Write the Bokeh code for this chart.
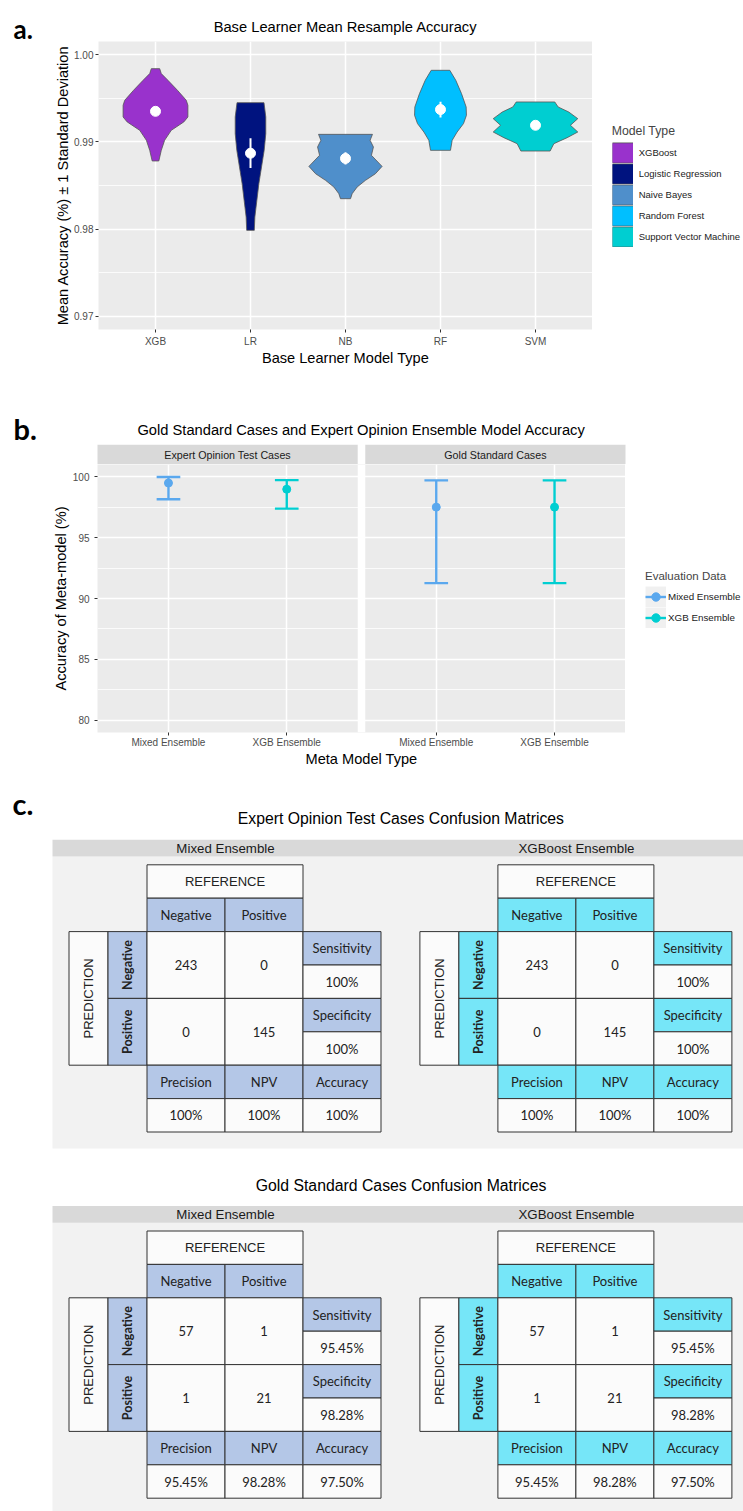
import math
from bokeh.plotting import figure
from bokeh.layouts import column, row
from bokeh.models import Range1d, FixedTicker, PrintfTickFormatter, Legend, LegendItem
from bokeh.embed import file_html
from bokeh.resources import INLINE
from bokeh.core.properties import value

# ======================= DATA =======================
# ---- panel a: base learners ----
base_models = ["XGB", "LR", "NB", "RF", "SVM"]
base_model_names = ["XGBoost", "Logistic Regression", "Naive Bayes", "Random Forest",
                    "Support Vector Machine"]
base_colors = ["#9932CC", "#00137F", "#4F8FCB", "#00BFFF", "#00CED1"]
base_mean = [0.9935, 0.9887, 0.9881, 0.9937, 0.9919]
base_sd = [0.0003, 0.0017, 0.0007, 0.0009, 0.0003]

# violin outlines: accuracy level / density half-width (category widths)
xgb_level = [0.99839, 0.99782, 0.99705, 0.99591, 0.99476, 0.99419, 0.99285, 0.99228,
             0.99132, 0.99018, 0.98903, 0.98781]
xgb_halfw = [0.044, 0.061, 0.131, 0.231, 0.324, 0.341, 0.341, 0.298, 0.166, 0.096, 0.061, 0.035]
lr_level = [0.99449, 0.99285, 0.99094, 0.98903, 0.98712, 0.98521, 0.98330, 0.98139, 0.97986]
lr_halfw = [0.142, 0.161, 0.161, 0.144, 0.116, 0.088, 0.067, 0.046, 0.040]
nb_level = [0.99086, 0.99018, 0.98941, 0.98846, 0.98719, 0.98635, 0.98559, 0.98483,
            0.98406, 0.98349]
nb_halfw = [0.284, 0.259, 0.294, 0.273, 0.385, 0.315, 0.210, 0.123, 0.070, 0.053]
rf_level = [0.99820, 0.99705, 0.99553, 0.99400, 0.99304, 0.99209, 0.99113, 0.99018, 0.98903]
rf_halfw = [0.098, 0.161, 0.221, 0.270, 0.273, 0.242, 0.175, 0.123, 0.105]
svm_level = [0.99457, 0.99400, 0.99342, 0.99266, 0.99190, 0.99113, 0.99048, 0.98979, 0.98895]
svm_halfw = [0.203, 0.238, 0.350, 0.445, 0.368, 0.445, 0.333, 0.193, 0.154]

acc_ticks_a = [0.97, 0.98, 0.99, 1.00]
acc_minor_a = [0.975, 0.985, 0.995]

# ---- panel b: meta models ----
meta_facets = ["Expert Opinion Test Cases", "Gold Standard Cases"]
meta_models = ["Mixed Ensemble", "XGB Ensemble"]
meta_colors = ["#5AA8EE", "#00CED1"]
mixed_acc = [99.48, 97.50]
mixed_lo = [98.15, 91.26]
mixed_hi = [99.97, 99.70]
xgbens_acc = [98.97, 97.50]
xgbens_lo = [97.38, 91.26]
xgbens_hi = [99.72, 99.70]
acc_ticks_b = [80, 85, 90, 95, 100]
acc_minor_b = [82.5, 87.5, 92.5, 97.5]

# ---- panel c: confusion matrices ----
section_titles = ["Expert Opinion Test Cases Confusion Matrices",
                  "Gold Standard Cases Confusion Matrices"]
ensembles_c = ["Mixed Ensemble", "XGBoost Ensemble"]
ensemble_fill = ["#B4C7E7", "#76E6F8"]
classes = ["Negative", "Positive"]
metric_names = ["Sensitivity", "Specificity", "Precision", "NPV", "Accuracy"]
# counts: [pred Neg/ref Neg, pred Neg/ref Pos, pred Pos/ref Neg, pred Pos/ref Pos]
expert_counts = [243, 0, 0, 145]
expert_metrics = ["100%", "100%", "100%", "100%", "100%"]
gold_counts = [57, 1, 1, 21]
gold_metrics = ["95.45%", "98.28%", "95.45%", "98.28%", "97.50%"]

# ======================= STYLE / LAYOUT =======================
FONT = "Liberation Sans"
CFONT = "Lato"
W = 743

A_LEFT, A_BOTTOM, A_LEG_W = 98, 39, 151
B_LEFT, B_BOTTOM, B_LEG_W = 97, 48, 118
HDR_A_H, PA_H, HDR_B_H, PB_H, PC_H = 41, 327, 96, 316, 731


def common(**kw):
    return dict(output_backend="svg", toolbar_location=None, frame_align=False,
                border_fill_color="white", outline_line_color=None, **kw)


def band(width, height):
    """A figure whose frame is its whole canvas (pixel layout units, y pointing down)."""
    return figure(width=width, height=height, x_range=Range1d(0, width),
                  y_range=Range1d(height, 0), title=None, min_border=0,
                  x_axis_type=None, y_axis_type=None, background_fill_color="white",
                  **common())


def style_axes(p, xlab_off, ylab_off, xtitle_off, ytitle_off):
    for ax in (p.xaxis[0], p.yaxis[0]):
        ax.axis_line_color = None
        ax.major_tick_line_color = "#333333"
        ax.major_tick_out = 3
        ax.major_tick_in = 0
        ax.minor_tick_out = 0
        ax.minor_tick_in = 0
        ax.major_label_text_font = FONT
        ax.major_label_text_font_size = "10px"
        ax.major_label_text_color = "#4D4D4D"
        ax.axis_label_text_font = FONT
        ax.axis_label_text_font_size = "14.6px"
        ax.axis_label_text_font_style = "normal"
        ax.axis_label_text_color = "black"
    p.xaxis.major_label_standoff = xlab_off
    p.yaxis.major_label_standoff = ylab_off
    p.xaxis.axis_label_standoff = xtitle_off
    p.yaxis.axis_label_standoff = ytitle_off
    p.grid.grid_line_color = "white"
    p.grid.grid_line_width = 1.5


def panel_letter(f, x, y, letter, size="29px"):
    f.text(x=[x], y=[y], text=[letter], text_font=value(CFONT), text_font_style="bold",
           text_font_size=size, text_baseline="alphabetic", text_align="left",
           text_color="black")


def legend_style(**kw):
    return dict(padding=0, margin=0, spacing=0, title_standoff=4,
                label_text_font=FONT, label_text_color="#222222",
                title_text_font=FONT, title_text_font_style="normal",
                background_fill_alpha=0, border_line_color=None, **kw)


# legend-key glyph data sits outside the visible band
OFF = [-50.0]
OFF2 = [-50.0, -40.0]

# ======================= PANEL A =======================
xpos_a = [1, 2, 3, 4, 5]
PA_W = W - A_LEG_W
hdr_a = band(W, HDR_A_H)
panel_letter(hdr_a, 13, 28, "a.", size="26px")
hdr_a.text(x=[A_LEFT + (PA_W - A_LEFT) / 2], y=[26.7],
           text=["Base Learner Mean Resample Accuracy"], text_font=value(FONT),
           text_font_size="14.7px", text_align="center", text_baseline="middle",
           text_color="black")

pa = figure(width=PA_W, height=PA_H, x_range=Range1d(0.4, 5.6), y_range=Range1d(0.9685, 1.0015),
            title=None, min_border_left=A_LEFT, min_border_right=0, min_border_top=0,
            min_border_bottom=A_BOTTOM, background_fill_color="#EBEBEB", **common())
style_axes(pa, 3, 2, 0, 0)
pa.xaxis.ticker = FixedTicker(ticks=xpos_a)
pa.xgrid.ticker = FixedTicker(ticks=xpos_a)
pa.xaxis.major_label_overrides = {k: m for k, m in zip(xpos_a, base_models)}
pa.yaxis.ticker = FixedTicker(ticks=acc_ticks_a, minor_ticks=acc_minor_a)
pa.ygrid.ticker = FixedTicker(ticks=acc_ticks_a, minor_ticks=acc_minor_a)
pa.yaxis.formatter = PrintfTickFormatter(format="%.2f")
pa.ygrid.minor_grid_line_color = "white"
pa.ygrid.minor_grid_line_width = 0.8
pa.xaxis.axis_label = "Base Learner Model Type"
pa.yaxis.axis_label = "Mean Accuracy (%) \u00b1 1 Standard Deviation"

levels = [xgb_level, lr_level, nb_level, rf_level, svm_level]
halfws = [xgb_halfw, lr_halfw, nb_halfw, rf_halfw, svm_halfw]
vx, vy = [], []
for pos, lv, hw in zip(xpos_a, levels, halfws):
    vx.append([pos + w for w in hw] + [pos - w for w in reversed(hw)])
    vy.append(list(lv) + list(reversed(lv)))
pa.patches(xs=vx, ys=vy, fill_color=base_colors, line_color="#555555", line_width=0.8)
pa.segment(x0=xpos_a, x1=xpos_a, y0=[m - s for m, s in zip(base_mean, base_sd)],
           y1=[m + s for m, s in zip(base_mean, base_sd)], line_color="white", line_width=2)
pa.scatter(xpos_a, base_mean, size=10, fill_color="white", line_color="white")

# legend of panel a: full-size colour keys with a grey edge, like the violins
lega = band(A_LEG_W, PA_H)
items_a = []
for n, c in zip(base_model_names, base_colors):
    edge = lega.line(OFF2, OFF2, line_color="#555555", line_width=21)
    fill = lega.line(OFF2, OFF2, line_color=c, line_width=19.4)
    items_a.append(LegendItem(label=n, renderers=[edge, fill]))
lega.add_layout(Legend(items=items_a, location=(19.7, 121.3), title="Model Type",
                       glyph_width=21, glyph_height=21, label_standoff=6,
                       label_text_font_size="9.5px", title_text_font_size="12.3px",
                       **legend_style()))

# ======================= PANEL B =======================
FACET_GAP = 0.064
facet_off = 2.2 + FACET_GAP
X_END_B = 0.4 + 2 * 2.2 + FACET_GAP
PB_W = W - B_LEG_W
B_FRAME_W = PB_W - B_LEFT
px_per_unit_b = B_FRAME_W / (X_END_B - 0.4)

xticks_b, xlabels_b = [], []
for k in range(len(meta_facets)):
    for j, m in enumerate(meta_models):
        xticks_b.append(round(j + 1 + k * facet_off, 4))
        xlabels_b.append(m)

hdr_b = band(W, HDR_B_H)
panel_letter(hdr_b, 13, 60.3, "b.")
hdr_b.text(x=[B_LEFT + B_FRAME_W / 2], y=[61.3],
           text=["Gold Standard Cases and Expert Opinion Ensemble Model Accuracy"],
           text_font=value(FONT), text_font_size="14.7px", text_align="center",
           text_baseline="middle", text_color="black")
STRIP_Y0 = 76.3
strip_left = [B_LEFT + k * facet_off * px_per_unit_b for k in range(2)]
strip_right = [l + 2.2 * px_per_unit_b for l in strip_left]
hdr_b.quad(left=strip_left, right=strip_right, top=[STRIP_Y0] * 2, bottom=[HDR_B_H] * 2,
           fill_color="#D9D9D9", line_color=None)
hdr_b.text(x=[(l + r) / 2 for l, r in zip(strip_left, strip_right)],
           y=[(STRIP_Y0 + HDR_B_H) / 2] * 2, text=meta_facets, text_font=value(FONT),
           text_font_size="10.7px", text_color="#1A1A1A", text_align="center",
           text_baseline="middle")

pb = figure(width=PB_W, height=PB_H, x_range=Range1d(0.4, X_END_B), y_range=Range1d(79.0, 101.0),
            title=None, min_border_left=B_LEFT, min_border_right=0, min_border_top=0,
            min_border_bottom=B_BOTTOM, background_fill_color="#EBEBEB", **common())
style_axes(pb, 1, 5, 0, 1)
pb.xaxis.ticker = FixedTicker(ticks=xticks_b)
pb.xgrid.ticker = FixedTicker(ticks=xticks_b)
pb.xaxis.major_label_overrides = {t: l for t, l in zip(xticks_b, xlabels_b)}
pb.yaxis.ticker = FixedTicker(ticks=acc_ticks_b, minor_ticks=acc_minor_b)
pb.ygrid.ticker = FixedTicker(ticks=acc_ticks_b, minor_ticks=acc_minor_b)
pb.ygrid.minor_grid_line_color = "white"
pb.ygrid.minor_grid_line_width = 0.8
pb.xaxis.axis_label = "Meta Model Type"
pb.yaxis.axis_label = "Accuracy of Meta-model (%)"

# white gap between the two facets
pb.quad(left=[2.6], right=[2.6 + FACET_GAP], bottom=[79.0], top=[101.0],
        fill_color="white", line_color=None)

for j, (col, acc, lo, hi) in enumerate(zip(meta_colors, [mixed_acc, xgbens_acc],
                                          [mixed_lo, xgbens_lo], [mixed_hi, xgbens_hi])):
    xs = [j + 1 + k * facet_off for k in range(2)]
    x0 = xs + [x - 0.1 for x in xs] * 2
    x1 = xs + [x + 0.1 for x in xs] * 2
    y0 = lo + lo + hi
    y1 = hi + lo + hi
    pb.segment(x0=x0, x1=x1, y0=y0, y1=y1, line_color=col, line_width=2.4)
    pb.scatter(xs, acc, size=8, fill_color=col, line_color=col)

# legend of panel b: grey key background, line and point
legb = band(B_LEG_W, PB_H)
items_b = []
for m, col in zip(meta_models, meta_colors):
    kb = legb.line(OFF2, OFF2, line_color="#F0F0F0", line_width=21)
    ks = legb.segment(x0=OFF, x1=OFF, y0=OFF, y1=OFF, line_color=col, line_width=2.4)
    kp = legb.scatter(x=OFF, y=OFF, size=8, fill_color=col, line_color=col)
    items_b.append(LegendItem(label=m, renderers=[kb, ks, kp]))
legb.add_layout(Legend(items=items_b, location=(20, 152), title="Evaluation Data",
                       glyph_width=21, glyph_height=21, label_standoff=2,
                       label_text_font_size="9.8px", title_text_font_size="11.5px",
                       **legend_style()))

# ======================= PANEL C =======================
pc = band(W, PC_H)

SEC_Y = [0.0, 366.2]
PANEL_X0 = 52.0
TITLE_X, TITLE_DY = 400.5, 38.3
STRIP_DY0, STRIP_DY1 = 59.3, 76.0
BG_H = [292.0, 400.0]
STRIP_LABEL_X = [225.0, 576.0]
TABLE_X0 = [68.5, 419.4]
TABLE_DY = 84.3
CW, RH = 39.0, 33.4

pc.quad(left=[PANEL_X0] * 2, right=[W] * 2, top=[s + STRIP_DY1 for s in SEC_Y],
        bottom=[s + STRIP_DY1 + h for s, h in zip(SEC_Y, BG_H)], fill_color="#F2F2F2",
        line_color=None)
pc.quad(left=[PANEL_X0] * 2, right=[W] * 2, top=[s + STRIP_DY0 for s in SEC_Y],
        bottom=[s + STRIP_DY1 for s in SEC_Y], fill_color="#D9D9D9", line_color=None)
pc.text(x=[TITLE_X] * 2, y=[s + TITLE_DY for s in SEC_Y], text=section_titles,
        text_font=value(FONT), text_font_size="15.8px", text_color="black",
        text_align="center", text_baseline="middle")
sx, sy, st = [], [], []
for s in SEC_Y:
    for x, name in zip(STRIP_LABEL_X, ensembles_c):
        sx.append(x)
        sy.append(s + (STRIP_DY0 + STRIP_DY1) / 2)
        st.append(name)
pc.text(x=sx, y=sy, text=st, text_font=value(FONT), text_font_size="13.3px",
        text_color="#1A1A1A", text_align="center", text_baseline="middle")

cells = {"l": [], "r": [], "t": [], "b": [], "f": []}
texts = {k: {"x": [], "y": [], "t": []} for k in ("cap", "capv", "hdr", "hdrv", "val")}


def add_table(x0, y0, counts, metrics, fill):
    spec = [
        ("REFERENCE", 2, 6, 0, 1, False, "cap"),
        (classes[0], 2, 4, 1, 2, True, "hdr"),
        (classes[1], 4, 6, 1, 2, True, "hdr"),
        ("PREDICTION", 0, 1, 2, 6, False, "capv"),
        (classes[0], 1, 2, 2, 4, True, "hdrv"),
        (classes[1], 1, 2, 4, 6, True, "hdrv"),
        (str(counts[0]), 2, 4, 2, 4, False, "val"),
        (str(counts[1]), 4, 6, 2, 4, False, "val"),
        (str(counts[2]), 2, 4, 4, 6, False, "val"),
        (str(counts[3]), 4, 6, 4, 6, False, "val"),
        (metric_names[0], 6, 8, 2, 3, True, "hdr"),
        (metrics[0], 6, 8, 3, 4, False, "val"),
        (metric_names[1], 6, 8, 4, 5, True, "hdr"),
        (metrics[1], 6, 8, 5, 6, False, "val"),
        (metric_names[2], 2, 4, 6, 7, True, "hdr"),
        (metric_names[3], 4, 6, 6, 7, True, "hdr"),
        (metric_names[4], 6, 8, 6, 7, True, "hdr"),
        (metrics[2], 2, 4, 7, 8, False, "val"),
        (metrics[3], 4, 6, 7, 8, False, "val"),
        (metrics[4], 6, 8, 7, 8, False, "val"),
    ]
    for txt, c0, c1, r0, r1, filled, kind in spec:
        L, R = x0 + c0 * CW, x0 + c1 * CW
        T, B = y0 + r0 * RH, y0 + r1 * RH
        cells["l"].append(L); cells["r"].append(R)
        cells["t"].append(T); cells["b"].append(B)
        cells["f"].append(fill if filled else "#FBFBFB")
        texts[kind]["x"].append((L + R) / 2)
        texts[kind]["y"].append((T + B) / 2)
        texts[kind]["t"].append(txt)


for s, counts, metrics in zip(SEC_Y, [expert_counts, gold_counts], [expert_metrics, gold_metrics]):
    for x0, fill in zip(TABLE_X0, ensemble_fill):
        add_table(x0, s + TABLE_DY, counts, metrics, fill)

pc.quad(left=cells["l"], right=cells["r"], top=cells["t"], bottom=cells["b"],
        fill_color=cells["f"], line_color="#333333", line_width=1)

text_styles = {
    "cap": dict(font=FONT, size="13px", style="normal", angle=0.0),
    "capv": dict(font=FONT, size="13px", style="normal", angle=math.pi / 2),
    "hdr": dict(font=CFONT, size="13px", style="normal", angle=0.0),
    "hdrv": dict(font=CFONT, size="12.5px", style="bold", angle=math.pi / 2),
    "val": dict(font=CFONT, size="13px", style="normal", angle=0.0),
}
for kind, st_ in text_styles.items():
    d = texts[kind]
    pc.text(x=d["x"], y=d["y"], text=d["t"], angle=st_["angle"],
            text_font=value(st_["font"]), text_font_size=st_["size"],
            text_font_style=st_["style"], text_color="#222222",
            text_align="center", text_baseline="middle")

panel_letter(pc, 12, 22.7, "c.")

layout = column(hdr_a, row(pa, lega, spacing=0), hdr_b, row(pb, legb, spacing=0), pc, spacing=0)
open("out.html", "w").write(file_html(layout, INLINE))
